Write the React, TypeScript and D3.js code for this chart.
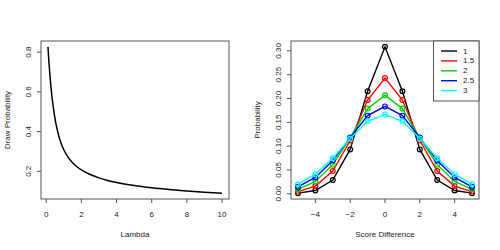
import React from 'react';
import * as d3 from 'd3';

// left panel: draw probability vs lambda
const lambdaGrid = [0.1, 0.15, 0.2, 0.25, 0.3, 0.4, 0.5, 0.6, 0.7, 0.8, 0.9, 1, 1.25, 1.5, 1.75, 2, 2.5, 3, 3.5, 4, 5, 6, 7, 8, 9, 10];
const drawProb = [0.8269, 0.7576, 0.6974, 0.645, 0.5993, 0.5242, 0.4658, 0.4198, 0.3831, 0.3533, 0.3289, 0.3085, 0.27, 0.243, 0.2228, 0.207, 0.1835, 0.1667, 0.1537, 0.1434, 0.1278, 0.1164, 0.1076, 0.1005, 0.0947, 0.0898];
const leftXTicks = [0, 2, 4, 6, 8, 10];
const leftYTicks = [0.2, 0.4, 0.6, 0.8];

// right panel: probability vs score difference
const scoreDiff = [-5, -4, -3, -2, -1, 0, 1, 2, 3, 4, 5];
const lambdaLabels = ['1', '1.5', '2', '2.5', '3'];
const prob1 = [0.0013, 0.0069, 0.0288, 0.0932, 0.2153, 0.3085, 0.2153, 0.0932, 0.0288, 0.0069, 0.0013];
const prob15 = [0.0045, 0.0162, 0.0478, 0.1118, 0.1968, 0.243, 0.1968, 0.1118, 0.0478, 0.0162, 0.0045];
const prob2 = [0.0092, 0.0259, 0.0611, 0.1176, 0.1788, 0.207, 0.1788, 0.1176, 0.0611, 0.0259, 0.0092];
const prob25 = [0.0145, 0.0344, 0.0696, 0.118, 0.164, 0.1835, 0.164, 0.118, 0.0696, 0.0344, 0.0145];
const prob3 = [0.0198, 0.0412, 0.0747, 0.116, 0.1521, 0.1667, 0.1521, 0.116, 0.0747, 0.0412, 0.0198];
const rightXTicks = [-4, -2, 0, 2, 4];
const rightYTicks = [0, 0.05, 0.1, 0.15, 0.2, 0.25, 0.3];

const seriesColors = ['#000000', '#FF0000', '#00CD00', '#0000FF', '#00FFFF'];
const allSeries = [prob1, prob15, prob2, prob25, prob3];

const font = '"Liberation Sans", Arial, sans-serif';
const fs = 8;

// R-style 4% padded domain
const pad = (lo: number, hi: number): [number, number] => {
  const e = (hi - lo) * 0.04;
  return [lo - e, hi + e];
};

const top = 41, bottom = 199;

const Axes = ({ x, y, xTicks, yTicks, yFmt, xFmt, xTitle, yTitle }: any) => {
  const [x0, x1] = x.range();
  const cx = (x0 + x1) / 2;
  return (
    <g fontFamily={font} fontSize={fs} fill="#222">
      <rect x={x0} y={top} width={x1 - x0} height={bottom - top} fill="none" stroke="#555" strokeWidth={1} />
      {xTicks.map((t: number) => (
        <g key={'x' + t}>
          <line x1={x(t)} x2={x(t)} y1={bottom} y2={bottom + 4} stroke="#555" />
          <text x={x(t)} y={217} textAnchor="middle">{xFmt(t)}</text>
        </g>
      ))}
      {yTicks.map((t: number) => (
        <g key={'y' + t}>
          <line x1={x0 - 4} x2={x0} y1={y(t)} y2={y(t)} stroke="#555" />
          <text transform={`translate(${x0 - 10},${y(t)}) rotate(-90)`} textAnchor="middle">{yFmt(t)}</text>
        </g>
      ))}
      <text x={cx} y={237} textAnchor="middle">{xTitle}</text>
      <text transform={`translate(${x0 - 31},${(top + bottom) / 2}) rotate(-90)`} textAnchor="middle">{yTitle}</text>
    </g>
  );
};

const App = () => {
  const lx = d3.scaleLinear().domain(pad(0.1, 10)).range([41, 229]);
  const ly = d3.scaleLinear().domain(pad(d3.min(drawProb)!, d3.max(drawProb)!)).range([bottom, top]);
  const leftLine = d3.line<number>()
    .curve(d3.curveMonotoneX)
    .x((_, i) => lx(lambdaGrid[i]))
    .y(d => ly(d));

  const allVals = allSeries.flat();
  const rx = d3.scaleLinear().domain(pad(-5, 5)).range([291, 479]);
  const ry = d3.scaleLinear().domain(pad(d3.min(allVals)!, d3.max(allVals)!)).range([bottom, top]);
  const rightLine = d3.line<number>()
    .x((_, i) => rx(scoreDiff[i]))
    .y(d => ry(d));

  const minus = (t: number) => (t < 0 ? '\u2212' + Math.abs(t) : String(t));

  return (
    <svg width={500} height={250} style={{ position: 'absolute', left: 0, top: 0, background: '#fff' }}>
      <Axes x={lx} y={ly} xTicks={leftXTicks} yTicks={leftYTicks}
        xFmt={(t: number) => String(t)} yFmt={(t: number) => t.toFixed(1)}
        xTitle="Lambda" yTitle="Draw Probability" />
      <path d={leftLine(drawProb)!} fill="none" stroke="#000" strokeWidth={1.5} />

      <Axes x={rx} y={ry} xTicks={rightXTicks} yTicks={rightYTicks}
        xFmt={minus} yFmt={(t: number) => t.toFixed(2)}
        xTitle="Score Difference" yTitle="Probability" />
      {allSeries.map((s, k) => (
        <g key={k}>
          <path d={rightLine(s)!} fill="none" stroke={seriesColors[k]} strokeWidth={1.4} />
          {s.map((v, i) => (
            <circle key={i} cx={rx(scoreDiff[i])} cy={ry(v)} r={2.4} fill="none" stroke={seriesColors[k]} strokeWidth={1.2} />
          ))}
        </g>
      ))}

      <g fontFamily={font} fontSize={fs} fill="#222">
        <rect x={433.5} y={41} width={45.5} height={60} fill="#fff" stroke="#555" />
        {lambdaLabels.map((lab, k) => {
          const yy = 51 + k * 9.9;
          return (
            <g key={lab}>
              <line x1={441} x2={457} y1={yy} y2={yy} stroke={seriesColors[k]} strokeWidth={1.4} />
              <text x={463} y={yy} dominantBaseline="central">{lab}</text>
            </g>
          );
        })}
      </g>
    </svg>
  );
};

export default App;
